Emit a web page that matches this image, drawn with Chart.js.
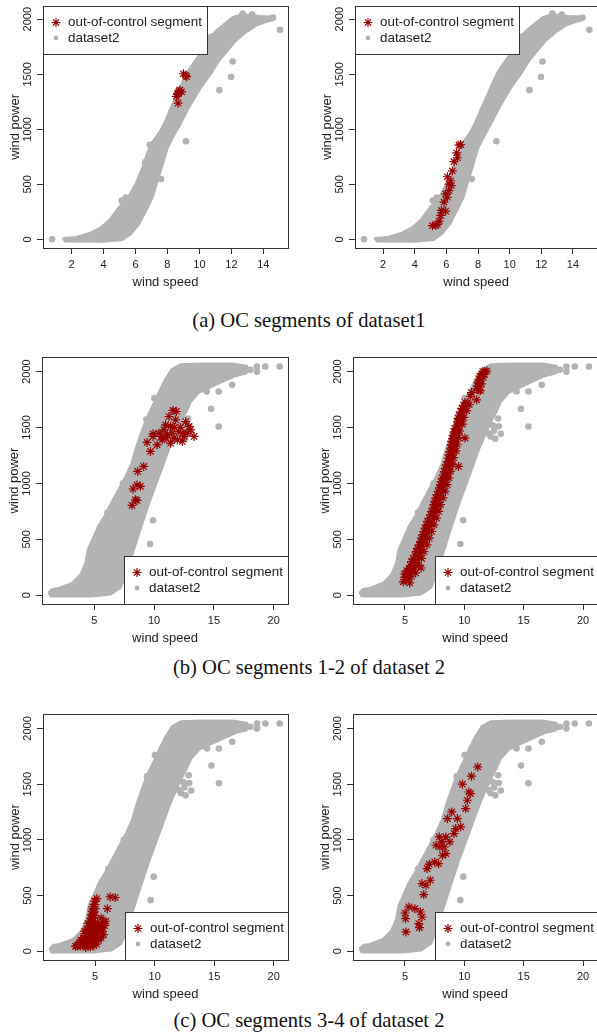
<!DOCTYPE html>
<html>
<head>
<meta charset="utf-8">
<script src="https://cdn.jsdelivr.net/npm/chart.js@4.4.1/dist/chart.umd.min.js"></script>
<style>
  body { margin: 0; width: 597px; height: 1036px; overflow: hidden; position: relative; background: #fff; }
  canvas { position: absolute; }
  .cap { position: absolute; left: 0; width: 618px; text-align: center; font-family: 'Liberation Serif', 'Times New Roman', Times, serif; font-size: 20.6px; line-height: 24px; color: #111; }
</style>
</head>
<body>
<div class="cap" style="top:308px">(a) OC segments of dataset1</div>
<div class="cap" style="top:655px">(b) OC segments 1-2 of dataset 2</div>
<div class="cap" style="top:1008px">(c) OC segments 3-4 of dataset 2</div>
<script>
// cores e fonte
const GREY = "#b3b3b3"
const RED = "#990000"
const FONT = "'Liberation Sans', Arial, Helvetica, sans-serif"

// textos e ticks
const xTicksSet1 = [2, 4, 6, 8, 10, 12, 14]
const xTicksSet2 = [5, 10, 15, 20]
const yTicks = [0, 500, 1000, 1500, 2000]
const legendLabels = ["out-of-control segment", "dataset2"]
const xTitle = "wind speed"
const yTitle = "wind power"

// nuvem do dataset1: borda superior/esquerda e inferior/direita [speed, power]
const set1Upper = [[1.45,12],[2.29,22],[3.12,58],[3.85,112],[4.37,178],[4.9,282],[5.6,400],[6.05,520],[6.4,640],[6.75,790],[7.0,875],[7.5,975],[7.9,1090],[8.2,1195],[8.55,1300],[8.85,1405],[9.25,1525],[9.75,1630],[10.25,1735],[10.65,1840],[11.1,1905],[11.56,1958],[12.08,2018],[12.7,2048],[13.75,2030],[14.58,2025],[14.62,1990]]
const set1Lower = [[1.45,12],[1.6,-20],[3.96,-22],[5.2,-5],[5.73,50],[6.25,140],[6.67,260],[7.08,380],[7.39,530],[7.71,680],[8.02,830],[8.44,950],[8.85,1055],[9.27,1175],[9.69,1280],[10.2,1400],[10.73,1505],[11.25,1625],[11.77,1715],[12.29,1805],[12.91,1880],[13.54,1940],[14.16,1975],[14.62,1990]]
const set1Loose = [[0.79,2],[5.14,353],[7.6,548],[9.16,892],[11.25,1356],[11.98,1476],[12.08,1616],[15.04,1904],[10.73,1841],[12.7,2052],[14.6,2015],[13.3,2042],[6.9,860],[6.6,700],[5.4,380]]

// nuvem do dataset2
const set2Upper = [[1.15,25],[1.48,57],[2.01,66],[3.13,110],[3.83,185],[4.25,289],[4.44,408],[4.7,468],[5.3,616],[5.9,720],[6.4,825],[7.0,944],[7.6,1063],[8.1,1182],[8.5,1330],[8.9,1450],[9.3,1569],[9.9,1703],[10.4,1821],[10.9,1926],[11.45,2021],[12.2,2066],[13.87,2072],[16.57,2072],[17.78,2051],[17.9,2005]]
const set2Lower = [[1.15,25],[1.34,-10],[4.83,-10],[6.37,6],[7.2,66],[7.63,170],[7.96,290],[8.46,455],[8.96,620],[9.52,800],[10.08,964],[10.7,1143],[11.26,1308],[11.68,1413],[12.3,1560],[12.71,1637],[13.07,1727],[13.77,1811],[14.6,1853],[15.73,1907],[16.84,1961],[17.68,1982],[17.9,2005]]
const set2Loose = [[5.17,477],[9.91,670],[9.66,459],[10.02,1762],[14.77,1667],[15.4,1509],[13.87,1866],[14.4,1821],[15.4,1821],[16.52,1881],[18.05,2015],[18.6,2045],[18.6,1999],[19.3,2045],[20.5,2045],[12.2,1420],[12.6,1400],[13.07,1443],[12.9,1510],[12.5,1470],[12.4,1520],[12.85,1580],[14.33,1832],[14.05,1890],[9.35,1570],[12.0,1450],[6.1,740],[7.4,1000]]

// segmentos fora de controle (asteriscos vermelhos)
const ocA1 = [[9.12,1490],[9.0,1505],[9.2,1478],[8.77,1356],[8.67,1326],[8.56,1300],[8.88,1341],[8.67,1238],[8.62,1320],[8.72,1345]]
const ocA2 = [[5.12,125],[5.33,128],[5.43,137],[5.54,167],[5.64,218],[5.68,263],[5.95,257],[5.85,338],[6.06,383],[5.95,413],[6.16,443],[6.31,488],[6.16,503],[6.27,533],[6.06,569],[6.37,622],[6.48,706],[6.69,742],[6.65,787],[6.79,856],[6.9,862]]
const ocB1 = [[8.15,804],[8.43,854],[8.57,848],[8.24,950],[8.57,986],[8.85,974],[8.63,1107],[9.13,1152],[9.69,1286],[9.41,1366],[9.91,1420],[10.25,1345],[10.82,1479],[11.1,1435],[11.38,1509],[11.66,1405],[12.08,1464],[12.5,1420],[12.92,1509],[12.64,1553],[11.8,1568],[11.24,1598],[11.58,1652],[11.86,1643],[13.34,1420],[10.68,1390],[10.4,1449],[12.36,1375],[11.94,1390],[11.38,1360],[10.96,1524],[12.78,1449],[13.06,1479],[9.91,1443],[11.0,1410],[11.5,1450],[12.2,1500],[10.6,1420],[11.7,1500],[12.4,1450]]
const ocB2 = [[4.85,120],[5.12,140],[5.4,110],[4.95,190],[5.26,199],[5.55,170],[5.35,240],[5.67,229],[5.9,200],[5.55,300],[5.86,289],[6.15,270],[5.85,360],[6.14,349],[6.4,330],[6.05,420],[6.36,408],[6.6,390],[6.3,480],[6.58,468],[6.85,450],[6.5,540],[6.77,527],[7.05,510],[6.7,600],[6.99,587],[7.25,570],[6.9,660],[7.19,646],[7.45,630],[7.15,720],[7.41,706],[7.65,690],[7.35,780],[7.6,765],[7.85,750],[7.5,840],[7.74,825],[8.0,810],[7.7,900],[7.96,884],[8.2,870],[7.9,960],[8.15,944],[8.4,930],[8.05,1015],[8.29,1003],[8.55,990],[8.25,1075],[8.49,1063],[8.7,1050],[8.4,1135],[8.63,1122],[8.85,1110],[8.6,1195],[8.8,1182],[9.0,1170],[8.7,1255],[8.9,1241],[9.1,1230],[8.85,1315],[9.07,1301],[9.3,1290],[8.95,1375],[9.18,1360],[9.4,1350],[9.05,1430],[9.26,1420],[9.5,1410],[9.2,1490],[9.4,1479],[9.6,1470],[9.45,1550],[9.62,1539],[9.85,1530],[9.55,1610],[9.73,1598],[9.95,1590],[9.8,1670],[9.95,1658],[10.2,1650],[10.05,1725],[10.23,1717],[10.4,1705],[10.5,1777],[11.03,1747],[10.6,1812],[11.05,1845],[11.2,1836],[11.35,1830],[11.15,1905],[11.27,1896],[11.45,1890],[11.3,1960],[11.38,1955],[11.6,1950],[11.55,2000],[11.74,2000],[11.9,2005],[6.36,244],[9.51,1152],[10.06,1405],
  [5.0,160],[5.3,165],[5.15,220],[5.45,215],[5.45,265],[5.75,255],[5.7,325],[6.0,318],[5.95,390],[6.25,378],[6.2,450],[6.45,438],[6.4,510],[6.65,498],[6.6,570],[6.88,558],[6.8,630],[7.08,616],[7.05,690],[7.3,676],[7.25,750],[7.5,736],[7.45,810],[7.68,795],[7.62,870],[7.85,855],[7.8,930],[8.05,915],[7.98,990],[8.2,975],[8.15,1045],[8.38,1033],[8.32,1105],[8.55,1093],[8.5,1165],[8.72,1152],[8.65,1225],[8.85,1212],[8.78,1285],[9.0,1272],[8.9,1345],[9.12,1331],[9.02,1400],[9.22,1390],[9.15,1460],[9.35,1450],[9.35,1520],[9.52,1510],[9.5,1580],[9.68,1568],[9.7,1640],[9.85,1628],[9.95,1700],[10.12,1690],[11.1,1870],[11.3,1925],[11.5,1980],[11.65,1975]]
const ocC1 = [[3.35,45],[3.6,60],[3.9,70],[4.1,55],[4.3,80],[4.5,60],[4.7,75],[4.9,50],[5.1,65],[3.8,100],[4.0,120],[4.2,140],[4.4,110],[4.6,130],[4.8,150],[5.0,120],[5.3,100],[4.1,180],[4.3,200],[4.5,170],[4.7,220],[4.9,190],[5.1,210],[4.4,250],[4.6,270],[4.8,300],[5.0,260],[4.7,330],[4.9,350],[5.0,380],[4.8,400],[5.0,420],[5.14,473],[5.3,240],[5.6,210],[5.8,230],[5.7,260],[5.5,300],[5.42,189],[6.03,383],[6.26,488],[6.68,482],[5.7,150],[5.5,120],[4.2,35],[4.6,40],[3.7,80],[4.45,90],
  [3.5,50],[3.75,45],[4.0,90],[4.25,65],[4.55,95],[4.75,110],[4.95,90],[4.15,160],[4.35,160],[4.65,185],[4.85,230],[4.55,230],[4.65,300],[4.85,270],[4.95,320],[4.75,360],[4.95,450],[5.2,150],[5.2,180],[5.6,180],[5.9,270],[5.65,240]]
const ocC2 = [[5.08,174],[5.05,293],[5.0,344],[5.33,398],[5.83,383],[6.3,353],[6.44,308],[6.16,249],[6.22,213],[6.58,509],[6.44,608],[6.77,593],[7.13,638],[6.86,743],[7.05,782],[7.5,802],[7.83,787],[7.61,952],[7.89,1027],[8.11,982],[8.3,937],[8.44,877],[8.16,862],[8.77,982],[9.13,1057],[8.58,1191],[8.94,1251],[9.41,1191],[9.27,1102],[9.69,1117],[9.83,1500],[10.11,1281],[10.25,1356],[10.38,1430],[10.52,1415],[10.6,1572],[11.13,1655],[7.94,937],[8.44,1027]]

const toPts = arr => arr.map(([x, y]) => ({ x, y }))

// caixa, rótulos do eixo y girados, títulos e legenda (estilo R)
const decor = {
  id: "decor",
  afterDraw(chart, args, o) {
    const { ctx, chartArea: a, scales } = chart
    ctx.save()
    ctx.fillStyle = "#222"
    ctx.textAlign = "center"
    ctx.textBaseline = "middle"
    ctx.font = `11px ${FONT}`
    scales.y.ticks.forEach(t => {
      ctx.save()
      ctx.translate(a.left - 15, scales.y.getPixelForValue(t.value))
      ctx.rotate(-Math.PI / 2)
      ctx.fillText(String(t.value), 0, 0)
      ctx.restore()
    })
    ctx.font = `13px ${FONT}`
    ctx.fillText(xTitle, (a.left + a.right) / 2, a.bottom + 34)
    ctx.save()
    ctx.translate(a.left - 28, (a.top + a.bottom) / 2)
    ctx.rotate(-Math.PI / 2)
    ctx.fillText(yTitle, 0, 0)
    ctx.restore()

    ctx.strokeStyle = "#333"
    ctx.lineWidth = 1
    const L = Math.round(a.left), T = Math.round(a.top)
    const W = Math.round(a.right - a.left), H = Math.round(a.bottom - a.top)
    ctx.strokeRect(L + 0.5, T + 0.5, W, H)

    // legenda
    const lh = 48
    let lx = L, ly = T, lw = 164
    if (o.corner === "br") {
      lx = L + 82
      ly = T + H - lh
      lw = L + W - lx
    }
    ctx.fillStyle = "#fff"
    ctx.fillRect(lx, ly, lw, lh)
    ctx.strokeRect(lx + 0.5, ly + 0.5, lw, lh)
    ctx.strokeStyle = RED
    ctx.fillStyle = RED
    ctx.lineWidth = 1.2
    Chart.helpers.drawPoint(ctx, { pointStyle: "star", radius: 4.5, borderWidth: 1.2, rotation: 0 }, lx + 13, ly + 16.5)
    ctx.fillStyle = GREY
    ctx.beginPath()
    ctx.arc(lx + 13, ly + 32, 2.4, 0, Math.PI * 2)
    ctx.fill()
    ctx.fillStyle = "#222"
    ctx.textAlign = "left"
    ctx.font = `13.4px ${FONT}`
    ctx.fillText(legendLabels[0], lx + 25, ly + 16.5)
    ctx.fillText(legendLabels[1], lx + 25, ly + 32)
    ctx.restore()
  },
}

const range1 = { xMin: 0.22, xMax: 15.54, yMin: -78, yMax: 2123 }
const range2 = { xMin: 0.62, xMax: 21.2, yMin: -78, yMax: 2130 }

const panels = [
  { cx: 0, cy: 0, cw: 298, yw: 43, top: 3, boxW: 245, boxH: 245, r: range1, ticks: xTicksSet1, up: set1Upper, low: set1Lower, loose: set1Loose, oc: ocA1, corner: "tl" },
  { cx: 298, cy: 0, cw: 305, yw: 57, top: 3, boxW: 245, boxH: 245, r: range1, ticks: xTicksSet1, up: set1Upper, low: set1Lower, loose: set1Loose, oc: ocA2, corner: "tl" },
  { cx: 0, cy: 330, cw: 298, yw: 42, top: 27, boxW: 246, boxH: 247, r: range2, ticks: xTicksSet2, up: set2Upper, low: set2Lower, loose: set2Loose, oc: ocB1, corner: "br" },
  { cx: 298, cy: 330, cw: 305, yw: 55, top: 27, boxW: 248, boxH: 247, r: range2, ticks: xTicksSet2, up: set2Upper, low: set2Lower, loose: set2Loose, oc: ocB2, corner: "br" },
  { cx: 0, cy: 690, cw: 298, yw: 43, top: 24, boxW: 245, boxH: 246, r: range2, ticks: xTicksSet2, up: set2Upper, low: set2Lower, loose: set2Loose, oc: ocC1, corner: "br" },
  { cx: 298, cy: 690, cw: 305, yw: 55, top: 24, boxW: 248, boxH: 246, r: range2, ticks: xTicksSet2, up: set2Upper, low: set2Lower, loose: set2Loose, oc: ocC2, corner: "br" },
]

function desenharPainel(p) {
  const ch = p.top + p.boxH + 45
  const canvas = document.createElement("canvas")
  canvas.width = p.cw
  canvas.height = ch
  canvas.style.left = p.cx + "px"
  canvas.style.top = p.cy + "px"
  canvas.style.width = p.cw + "px"
  canvas.style.height = ch + "px"
  document.body.appendChild(canvas)

  const tickGrid = { display: true, drawOnChartArea: false, drawTicks: true, tickLength: 6, color: "#333", lineWidth: 1 }

  new Chart(canvas.getContext("2d"), {
    type: "scatter",
    data: {
      datasets: [
        { type: "line", label: "cloud-top", data: toPts(p.up), borderColor: GREY, backgroundColor: GREY, borderWidth: 2, pointRadius: 0, fill: "+1", order: 3 },
        { type: "line", label: "cloud-bottom", data: toPts(p.low), borderColor: GREY, backgroundColor: GREY, borderWidth: 2, pointRadius: 0, fill: false, order: 3 },
        { label: legendLabels[1], data: toPts(p.loose), pointRadius: 3.3, backgroundColor: GREY, borderWidth: 0, order: 2 },
        { label: legendLabels[0], data: toPts(p.oc), pointStyle: "star", pointRadius: 4.5, borderColor: RED, backgroundColor: RED, borderWidth: 1.2, order: 1 },
      ],
    },
    options: {
      responsive: false,
      animation: false,
      events: [],
      layout: { padding: { top: p.top, right: p.cw - p.yw - p.boxW, left: 0, bottom: 0 } },
      plugins: {
        legend: { display: false },
        tooltip: { enabled: false },
        decor: { corner: p.corner },
      },
      scales: {
        x: {
          type: "linear",
          min: p.r.xMin,
          max: p.r.xMax,
          afterFit: s => { s.height = 45 },
          afterBuildTicks: s => { s.ticks = p.ticks.map(v => ({ value: v })) },
          grid: tickGrid,
          border: { display: false },
          ticks: { callback: v => String(v), color: "#222", font: { family: FONT, size: 11 }, padding: 4, maxRotation: 0, autoSkip: false },
        },
        y: {
          type: "linear",
          min: p.r.yMin,
          max: p.r.yMax,
          afterFit: s => { s.width = p.yw },
          afterBuildTicks: s => { s.ticks = yTicks.map(v => ({ value: v })) },
          grid: tickGrid,
          border: { display: false },
          ticks: { display: false },
        },
      },
    },
    plugins: [decor],
  })
}

panels.forEach(desenharPainel)
</script>
</body>
</html>
